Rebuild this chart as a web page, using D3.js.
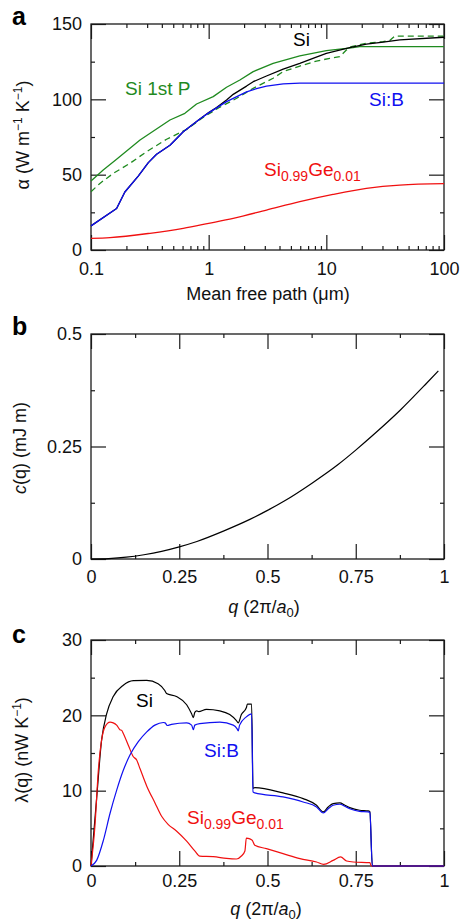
<!DOCTYPE html>
<html><head><meta charset="utf-8">
<script src="https://cdn.jsdelivr.net/npm/d3@7"></script>
<style>
body{margin:0;background:#fff}
text{font-family:"Liberation Sans",Arial,Helvetica,sans-serif}
</style>
</head><body>
<svg id="chart" width="461" height="923"></svg>
<script>
// ---------- Panel a data: mean free path (µm) vs accumulated conductivity ----------
const mfpSi    = [0.1,0.165,0.194,0.252,0.307,0.361,0.469,0.608,0.842,1.0,1.167,1.419,1.617,2.098,2.39,3.10,4.30,5.95,7.7,10,15.8,21.9,30.4,42.1,100];
const alphaSi  = [16,27.5,38.5,49,58,63.5,69.5,78.5,87,91.2,94.5,99.6,103.3,108.8,111.7,115.5,120.1,123.9,127.2,130.5,134.3,136.7,138,139.4,141.2];
const mfpSiB   = [0.1,0.165,0.194,0.252,0.307,0.361,0.469,0.608,0.842,1.0,1.419,2.098,2.6,3.10,4.30,5.95,100];
const alphaSiB = [16,27.5,38.5,49,58,63.5,69.5,78.5,87,91,98.5,105,107.3,108.8,110.3,110.7,110.8];
const mfpP     = [0.1,0.127,0.165,0.261,0.469,0.628,0.789,1.093,1.419,1.842,2.39,3.53,5.95,10,16.9,19.2,100];
const alphaP   = [45.8,53.1,60.2,73,86.3,90.7,96.9,101.8,108,112.8,118.4,123.9,128.8,132.3,134.3,135,135];
const mfpPd    = [0.1,0.119,0.155,0.214,0.297,0.439,0.649,0.897,1.24,1.73,2.39,3.53,4.30,5.95,8.23,10.7,13.0,14.8,16.3,21.9,30.4,34.6,38.1,100];
const alphaPd  = [38.7,44.2,50.9,57.5,65.3,73.5,80,88,94.7,100.7,107.3,114,118.4,122.1,125.4,127.2,128.3,132.7,135,137.2,138.3,139,142,142];
const mfpGe    = [0.1,0.145,0.317,0.608,1.0,1.617,3.10,5.95,11.4,21.9,42.1,100];
const alphaGe  = [7.7,8.2,11.1,14.4,17.7,21,26.5,32.1,36.9,40.9,43.1,44];
const aXTicks  = [0.1,1,10,100];
const aXLabels = ["0.1","1","10","100"];
const aYTicks  = [0,50,100,150];

// ---------- Panel b data ----------
const qB = [0,0.05,0.1,0.15,0.2,0.25,0.3,0.375,0.45,0.5,0.55,0.625,0.7,0.75,0.8,0.875,0.95,0.984];
const cB = [0,0.001,0.004,0.0095,0.017,0.027,0.039,0.062,0.088,0.108,0.13,0.168,0.21,0.242,0.276,0.33,0.39,0.418];
const qTicks = [0,0.25,0.5,0.75,1];
const qLabels = ["0","0.25","0.5","0.75","1"];
const bYTicks = [0,0.25,0.5];
const bYLabels = ["0","0.25","0.5"];

// ---------- Panel c data ----------
const qSi = [0,0.016,0.030,0.0443,0.063,0.0915,0.12,0.158,0.19,0.209,0.214,0.242,0.271,0.285,0.290,0.294,0.2995,0.305,0.327,0.365,0.393,0.412,0.417,0.426,0.44,0.443,0.455,0.459,0.464,0.544,0.601,0.639,0.658,0.672,0.686,0.705,0.719,0.733,0.761,0.785,0.790,0.797,1.0];
const lSi = [0,9,16.7,20.2,22.5,24.0,24.6,24.65,24.2,23.3,22.9,22.5,21.4,20.2,19.7,20.4,20.6,20.5,20.8,20.6,20.1,19.3,19.0,20.1,21.0,21.5,21.5,10.3,10.4,9.7,8.95,8.06,7.18,7.84,8.29,8.37,8.06,7.75,7.4,7.31,7.2,0,0];
const qSiB = [0,0.016,0.035,0.054,0.073,0.0915,0.110,0.134,0.158,0.181,0.205,0.210,0.216,0.228,0.271,0.285,0.290,0.294,0.308,0.365,0.403,0.414,0.417,0.421,0.44,0.455,0.459,0.464,0.544,0.601,0.639,0.658,0.672,0.686,0.705,0.719,0.733,0.761,0.785,0.790,0.797,1.0];
const lSiB = [0,0.75,3.4,7.0,10.1,12.7,14.7,16.5,17.8,18.7,19.05,19.0,18.65,18.8,19.0,18.7,18.1,18.7,18.9,19.1,18.7,18.2,17.95,18.7,19.8,20.2,9.84,9.7,9.17,8.5,7.84,7.04,7.6,8.06,8.2,7.93,7.6,7.26,7.18,7.1,0,0];
const qGe = [0,0.011,0.0208,0.030,0.040,0.054,0.063,0.0726,0.082,0.087,0.0915,0.106,0.12,0.129,0.139,0.158,0.181,0.2,0.219,0.242,0.271,0.294,0.308,0.346,0.384,0.412,0.426,0.436,0.44,0.45,0.457,0.464,0.497,0.544,0.592,0.639,0.659,0.686,0.707,0.724,0.743,0.79,0.794,1.0];
const lGe = [0,5.2,12.7,16.7,18.5,19.1,19.0,18.7,18.1,18.0,17.6,16.0,14.5,14.1,12.9,10.6,8.4,6.6,5.5,4.65,3.3,2.0,1.3,1.24,1.0,0.93,1.33,2.0,3.7,3.6,3.4,2.75,2.3,1.64,0.97,0.53,0.22,0.75,1.2,0.66,0.53,0.45,0,0];
const cYTicks = [0,10,20,30];

// ---------- layout ----------
const svg = d3.select("#chart");
const L = 91, R = 444;
const AX = "#1a1a1a";
const BLACK = "#000000", BLUE = "#1010f0", RED = "#f01010", GREEN = "#1f8a1f";

function frame(xS, yS, top, bottom, o){
  const g = svg.append("g");
  const bot = d3.axisBottom(xS).tickValues(o.xMajor).tickFormat((d,i)=>o.xLabels[i]).tickSize(-15).tickPadding(o.xPad);
  g.append("g").attr("transform",`translate(0,${bottom})`).call(bot);
  g.append("g").attr("transform",`translate(0,${top})`).call(d3.axisTop(xS).tickValues(o.xMajor).tickFormat("").tickSize(-15));
  g.append("g").attr("transform",`translate(0,${bottom})`).call(d3.axisBottom(xS).tickValues(o.xMinor).tickFormat("").tickSize(-4));
  g.append("g").attr("transform",`translate(0,${top})`).call(d3.axisTop(xS).tickValues(o.xMinor).tickFormat("").tickSize(-4));
  g.append("g").attr("transform",`translate(${L},0)`).call(d3.axisLeft(yS).tickValues(o.yMajor).tickFormat((d,i)=>o.yLabels[i]).tickSize(-15).tickPadding(9));
  g.append("g").attr("transform",`translate(${R},0)`).call(d3.axisRight(yS).tickValues(o.yMajor).tickFormat("").tickSize(-15));
  g.append("g").attr("transform",`translate(${L},0)`).call(d3.axisLeft(yS).tickValues(o.yMinor).tickFormat("").tickSize(-4));
  g.append("g").attr("transform",`translate(${R},0)`).call(d3.axisRight(yS).tickValues(o.yMinor).tickFormat("").tickSize(-4));
  g.selectAll(".domain").remove();
  g.selectAll(".tick line").attr("stroke",AX).attr("stroke-width",1.2);
  g.selectAll(".tick text").attr("font-size",18).attr("fill","#111").attr("font-family",'"Liberation Sans",Arial,sans-serif');
  g.append("rect").attr("x",L).attr("y",top).attr("width",R-L).attr("height",bottom-top)
    .attr("fill","none").attr("stroke",AX).attr("stroke-width",1.3);
  return g;
}
function curve(xS,yS,xs,ys,color,dash,w,cv){
  const pts = xs.map((x,i)=>[x,ys[i]]);
  svg.append("path").datum(pts)
    .attr("d", d3.line().x(d=>xS(d[0])).y(d=>yS(d[1])).curve(cv||d3.curveMonotoneX))
    .attr("fill","none").attr("stroke",color).attr("stroke-width",w||1.3)
    .attr("stroke-dasharray",dash||null).attr("stroke-linejoin","round");
}
function label(x,y,parts,color,size){
  const t = svg.append("text").attr("x",x).attr("y",y).attr("fill",color).attr("font-size",size||19);
  parts.forEach(p=>{
    const s = t.append("tspan").text(p.t);
    if(p.sub){ s.attr("font-size",14).attr("dy",5); }
    if(p.back){ s.attr("dy",-5); }
    if(p.sup){ s.attr("font-size",13).attr("dy",-7); }
    if(p.it){ s.attr("font-style","italic"); }
  });
  return t;
}
function panelLetter(ch,y){
  svg.append("text").attr("x",12).attr("y",y).attr("font-size",25).attr("font-weight","bold").attr("fill","#000").text(ch);
}
function yTitle(x,y,parts){
  const t = svg.append("text").attr("transform",`translate(${x},${y}) rotate(-90)`)
    .attr("text-anchor","middle").attr("font-size",18).attr("fill","#111");
  parts.forEach(p=>{
    const s = t.append("tspan").text(p.t);
    if(p.sup){ s.attr("font-size",12).attr("dy",-7); }
    if(p.back){ s.attr("dy",7); }
    if(p.it){ s.attr("font-style","italic"); }
  });
}

// ---------- Panel a ----------
{
  const top=24, bottom=250;
  const x = d3.scaleLog().domain([0.1,100]).range([L,R]);
  const y = d3.scaleLinear().domain([0,150]).range([bottom,top]);
  const minor = [];
  [0.1,1,10].forEach(dd=>{ for(let k=2;k<=9;k++) minor.push(dd*k); });
  frame(x,y,top,bottom,{xMajor:aXTicks,xLabels:aXLabels,xMinor:minor,xPad:12,
    yMajor:aYTicks,yLabels:aYTicks.map(String),yMinor:[25,75,125]});
  const lin = d3.curveLinear;
  curve(x,y,mfpGe,alphaGe,RED);
  curve(x,y,mfpPd,alphaPd,GREEN,"6,4",1.3,lin);
  curve(x,y,mfpP,alphaP,GREEN,null,1.3,lin);
  curve(x,y,mfpSi,alphaSi,BLACK,null,1.3,lin);
  curve(x,y,mfpSiB,alphaSiB,BLUE,null,1.3,lin);
  label(293,46,[{t:"Si"}],BLACK);
  label(125,95,[{t:"Si 1st P"}],GREEN);
  label(369,106,[{t:"Si:B"}],BLUE);
  label(264,176,[{t:"Si"},{t:"0.99",sub:1},{t:"Ge",back:1},{t:"0.01",sub:1}],RED);
  panelLetter("a",25);
  svg.append("text").attr("x",268).attr("y",300).attr("text-anchor","middle").attr("font-size",18).attr("fill","#111").text("Mean free path (μm)");
  yTitle(29,135,[{t:"α (W m"},{t:"−1",sup:1},{t:" K",back:1},{t:"−1",sup:1},{t:")",back:1}]);
}

// ---------- Panel b ----------
{
  const top=334, bottom=559;
  const x = d3.scaleLinear().domain([0,1]).range([L,R]);
  const y = d3.scaleLinear().domain([0,0.5]).range([bottom,top]);
  frame(x,y,top,bottom,{xMajor:qTicks,xLabels:qLabels,xMinor:[0.125,0.375,0.625,0.875],xPad:11,
    yMajor:bYTicks,yLabels:bYLabels,yMinor:[0.125,0.375]});
  curve(x,y,qB,cB,BLACK,null,1.2);
  panelLetter("b",335);
  const t = svg.append("text").attr("x",264).attr("y",613).attr("text-anchor","middle").attr("font-size",18).attr("fill","#111");
  t.append("tspan").attr("font-style","italic").text("q");
  t.append("tspan").text(" (2π/");
  t.append("tspan").attr("font-style","italic").text("a");
  t.append("tspan").attr("font-size",13).attr("dy",4).text("0");
  t.append("tspan").attr("dy",-4).text(")");
  yTitle(26,448,[{t:"c",it:1},{t:"(q) (mJ m)"}]);
}

// ---------- Panel c ----------
{
  const top=640, bottom=866;
  const x = d3.scaleLinear().domain([0,1]).range([L,R]);
  const y = d3.scaleLinear().domain([0,30]).range([bottom,top]);
  frame(x,y,top,bottom,{xMajor:qTicks,xLabels:qLabels,xMinor:[0.125,0.375,0.625,0.875],xPad:8,
    yMajor:cYTicks,yLabels:cYTicks.map(String),yMinor:[5,15,25]});
  curve(x,y,qSi,lSi,BLACK,null,1.2);
  curve(x,y,qGe,lGe,RED,null,1.2);
  curve(x,y,qSiB,lSiB,BLUE,null,1.2);
  label(136,707,[{t:"Si"}],BLACK);
  label(204,757,[{t:"Si:B"}],BLUE);
  label(187,824,[{t:"Si"},{t:"0.99",sub:1},{t:"Ge",back:1},{t:"0.01",sub:1}],RED);
  panelLetter("c",643);
  const t = svg.append("text").attr("x",266).attr("y",915).attr("text-anchor","middle").attr("font-size",18).attr("fill","#111");
  t.append("tspan").attr("font-style","italic").text("q");
  t.append("tspan").text(" (2π/");
  t.append("tspan").attr("font-style","italic").text("a");
  t.append("tspan").attr("font-size",13).attr("dy",4).text("0");
  t.append("tspan").attr("dy",-4).text(")");
  yTitle(28,750,[{t:"λ(q) (nW K"},{t:"−1",sup:1},{t:")",back:1}]);
}
</script>
</body></html>
